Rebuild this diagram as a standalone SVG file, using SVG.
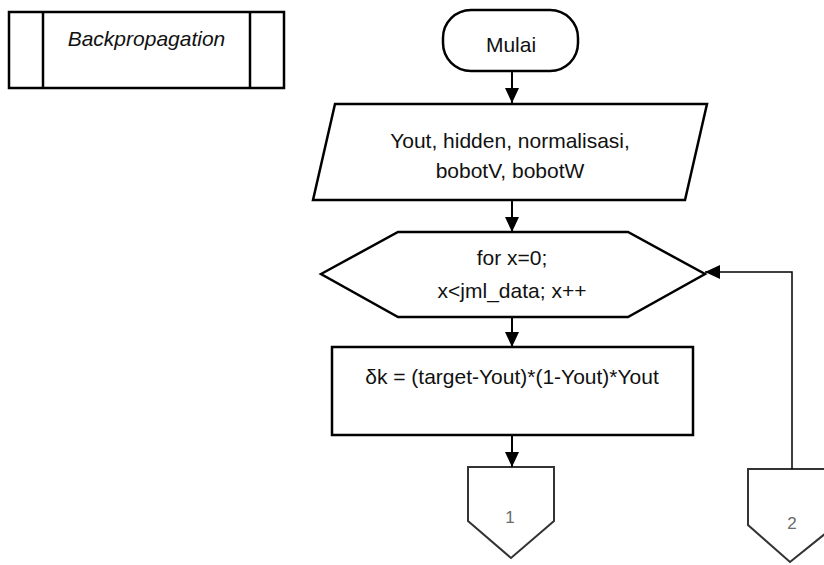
<svg xmlns="http://www.w3.org/2000/svg" width="824" height="565" viewBox="0 0 824 565">
  <defs>
    <marker id="arrow" markerUnits="userSpaceOnUse" markerWidth="16" markerHeight="16" viewBox="0 0 16 16" refX="15" refY="8" orient="auto">
      <path d="M0,1 L15,8 L0,15 Z" fill="#000"/>
    </marker>
    <style>
      .shape { fill: #fff; stroke: #000; stroke-width: 2.5; stroke-linejoin: miter; }
      .conn-shape { fill: #fff; stroke: #333; stroke-width: 2; }
      .label { font-family: "Liberation Sans", Arial, sans-serif; font-size: 21px; fill: #111; text-anchor: middle; }
      .num { font-family: "Liberation Sans", Arial, sans-serif; font-size: 17px; fill: #6a6a6a; text-anchor: middle; }
      .edge { fill: none; stroke: #000; stroke-width: 2; marker-end: url(#arrow); }
      .edge-thin { fill: none; stroke: #000; stroke-width: 1.5; marker-end: url(#arrow); }
    </style>
  </defs>
  <rect width="824" height="565" fill="#fff"/>

  <!-- predefined process: Backpropagation -->
  <g id="backpropagation">
    <rect x="9" y="12" width="275" height="76" class="shape" stroke-width="3"/>
    <line x1="43" y1="12" x2="43" y2="88" stroke="#000" stroke-width="2.5"/>
    <line x1="250" y1="12" x2="250" y2="88" stroke="#000" stroke-width="2.5"/>
    <text x="146.5" y="46" class="label" font-style="italic" font-size="23">Backpropagation</text>
  </g>

  <!-- terminator -->
  <g id="mulai">
    <rect x="443" y="10" width="135" height="61" rx="28" ry="28" class="shape" stroke-width="2"/>
    <text x="511" y="52" class="label" font-size="23">Mulai</text>
  </g>

  <!-- input -->
  <g id="input">
    <polygon points="335,104 707,104 685,200 313,200" class="shape"/>
    <text x="510" y="148" class="label">Yout, hidden, normalisasi,</text>
    <text x="510" y="178" class="label">bobotV, bobotW</text>
  </g>

  <!-- loop preparation -->
  <g id="loop">
    <polygon points="321,274 398,232 628,232 705,274 628,317 398,317" class="shape"/>
    <text x="512" y="265" class="label">for x=0;</text>
    <text x="512" y="298" class="label">x&lt;jml_data; x++</text>
  </g>

  <!-- process -->
  <g id="delta">
    <rect x="332" y="347" width="361" height="88" class="shape"/>
    <text x="512" y="384" class="label" font-size="23.5">δk = (target-Yout)*(1-Yout)*Yout</text>
  </g>

  <!-- off-page connectors -->
  <g id="connector-1">
    <polygon points="468,467 554,467 554,521 511,558 468,521" class="conn-shape"/>
    <text x="510" y="523" class="num">1</text>
  </g>
  <g id="connector-2">
    <polygon points="748,469 836,469 836,525 790,562 748,525" class="conn-shape"/>
    <text x="792" y="529" class="num">2</text>
  </g>

  <!-- connectors -->
  <g id="edges">
    <line x1="512" y1="71" x2="512" y2="103" class="edge"/>
    <line x1="512" y1="200" x2="512" y2="232" class="edge"/>
    <line x1="512" y1="317" x2="512" y2="347" class="edge"/>
    <line x1="512" y1="435" x2="512" y2="467" class="edge"/>
    <polyline points="792,469 792,272 705,272" class="edge-thin"/>
  </g>
</svg>
